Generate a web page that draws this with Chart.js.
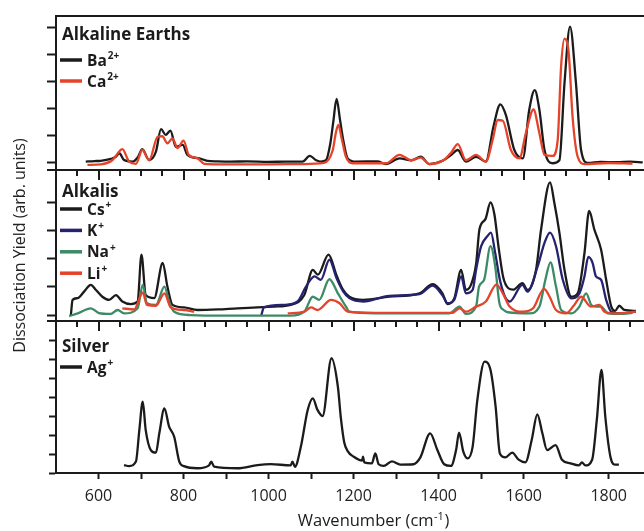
<!DOCTYPE html>
<html>
<head>
<meta charset="utf-8">
<script src="https://cdn.jsdelivr.net/npm/chart.js@4/dist/chart.umd.min.js"></script>
<style>
  html, body { margin: 0; padding: 0; background: #fff; }
  canvas { display: block; }
</style>
</head>
<body>
<canvas id="spectra" width="644" height="531"></canvas>
<script>
const FONT = '"Open Sans", "DejaVu Sans", sans-serif';
const INK = '#1b1b1b';
const RED = '#e5432a';
const NAVY = '#25226f';
const GREEN = '#3d8a66';

// wavenumber (cm-1), yield (arb. units) pairs
const baSpectrum = [[570,0.05],[590,0.07],[605,0.08],[629,0.15],[640,0.22],[649,0.36],[660,0.11],[680,0.05],[692,0.2],[703,0.51],[719,0.11],[735,0.42],[747,1.25],[758,1.04],[769,1.2],[782,0.6],[798,0.67],[809,0.3],[837,0.17],[856,0.08],[880,0.06],[911,0.05],[950,0.06],[1000,0.04],[1040,0.05],[1080,0.05],[1097,0.26],[1112,0.1],[1123,0.05],[1135,0.1],[1145,0.7],[1152,1.5],[1160,2.37],[1168,1.6],[1175,0.9],[1186,0.17],[1205,0.05],[1256,0.06],[1276,-0.04],[1308,0.17],[1336,0.1],[1358,0.23],[1378,-0.04],[1409,0.08],[1430,0.3],[1445,0.48],[1464,0.05],[1488,0.23],[1511,0.05],[1529,1.35],[1545,2.17],[1558,1.78],[1578,0.48],[1598,0.17],[1613,1.96],[1626,2.7],[1637,1.96],[1649,0.48],[1668,-0.01],[1684,0.1],[1696,2.95],[1709,5.05],[1723,2.95],[1735,0.48],[1751,0.0],[1780,0.04],[1820,0.03],[1850,0.05],[1880,0.02]];
const caSpectrum = [[574,-0.07],[605,-0.05],[633,0.11],[645,0.35],[656,0.51],[672,0.05],[688,-0.03],[703,0.48],[719,0.1],[739,0.97],[750,0.99],[762,0.73],[774,0.91],[786,0.55],[800,0.83],[812,0.3],[833,0.17],[849,-0.03],[900,-0.05],[1000,-0.05],[1080,-0.04],[1130,0.0],[1151,0.48],[1158,1.1],[1164,1.41],[1172,0.9],[1182,0.23],[1198,-0.01],[1276,-0.01],[1308,0.3],[1336,0.1],[1358,0.2],[1378,-0.04],[1413,0.12],[1430,0.4],[1445,0.7],[1464,0.1],[1488,0.3],[1511,0.05],[1527,0.85],[1539,1.59],[1551,1.56],[1570,0.48],[1590,0.17],[1605,1.1],[1623,1.98],[1637,1.1],[1649,0.3],[1668,0.26],[1680,0.85],[1688,3.57],[1696,4.6],[1706,4.06],[1715,1.71],[1727,0.23],[1743,-0.04],[1800,0.0],[1856,-0.02]];

const csSpectrum = [[535,0.0],[539,0.54],[551,0.6],[566,0.83],[582,1.07],[594,0.89],[609,0.65],[625,0.54],[641,0.71],[656,0.48],[676,0.39],[692,0.48],[701,2.14],[711,0.71],[731,0.6],[751,1.85],[762,1.01],[774,0.36],[801,0.27],[833,0.18],[880,0.2],[927,0.24],[974,0.27],[1013,0.3],[1052,0.36],[1084,0.71],[1104,1.6],[1116,1.43],[1141,2.14],[1160,1.4],[1175,0.9],[1190,0.65],[1223,0.54],[1284,0.65],[1355,0.77],[1386,1.1],[1409,0.77],[1421,0.39],[1437,0.6],[1453,1.6],[1464,0.89],[1476,1.07],[1488,1.8],[1496,3.04],[1510,3.4],[1522,3.99],[1531,3.58],[1541,2.4],[1552,1.33],[1564,0.95],[1575,0.9],[1597,1.13],[1609,0.89],[1629,1.6],[1641,3.04],[1662,4.7],[1672,3.99],[1684,2.92],[1696,1.6],[1712,0.65],[1727,0.77],[1743,2.2],[1754,3.69],[1766,3.04],[1782,2.32],[1794,1.25],[1806,0.3],[1815,0.15],[1825,0.33],[1837,0.18],[1864,0.15]];
const kSpectrum = [[983,0.0],[989,0.27],[1037,0.36],[1068,0.48],[1088,1.01],[1108,1.37],[1123,1.25],[1143,1.96],[1160,1.3],[1175,0.85],[1190,0.6],[1223,0.48],[1284,0.68],[1355,0.74],[1386,1.04],[1409,0.7],[1421,0.42],[1437,0.55],[1453,1.37],[1464,0.77],[1480,0.89],[1488,1.6],[1500,2.44],[1515,2.8],[1523,2.92],[1533,2.2],[1544,1.25],[1556,0.65],[1567,0.48],[1597,1.07],[1609,0.83],[1633,1.73],[1649,2.56],[1662,2.92],[1676,2.44],[1692,1.25],[1712,0.59],[1731,0.77],[1743,1.37],[1752,2.06],[1762,1.85],[1770,1.37],[1782,1.25],[1794,0.54],[1806,0.12],[1829,0.06],[1864,0.12]];
const naSpectrum = [[531,-0.04],[551,0.06],[582,0.24],[601,0.07],[629,0.04],[645,0.18],[660,0.06],[692,0.24],[704,1.07],[714,0.42],[735,0.36],[755,1.01],[766,0.48],[778,0.12],[817,0.0],[900,-0.02],[1000,-0.02],[1052,-0.02],[1084,0.12],[1104,0.65],[1119,0.54],[1143,1.27],[1163,0.77],[1182,0.3],[1190,0.12],[1250,0.06],[1350,0.06],[1425,0.06],[1449,0.3],[1464,0.04],[1488,0.3],[1495,1.01],[1507,1.25],[1522,2.44],[1533,1.73],[1543,0.42],[1553,0.18],[1563,0.1],[1614,0.06],[1637,0.3],[1651,1.25],[1663,1.87],[1676,1.01],[1688,0.18],[1712,0.06],[1731,0.3],[1747,0.77],[1759,0.36],[1770,0.3],[1782,0.3],[1798,0.06],[1825,0.04],[1856,0.08]];
const liSpectrum = [[656,0.24],[684,0.2],[704,0.8],[714,0.36],[735,0.33],[755,0.77],[770,0.27],[801,0.18],[825,0.12],[935,null],[1045,0.06],[1084,0.12],[1100,0.27],[1115,0.18],[1147,0.54],[1167,0.42],[1186,0.12],[1250,0.08],[1350,0.08],[1433,0.08],[1449,0.24],[1464,0.12],[1488,0.3],[1511,0.48],[1536,1.08],[1551,0.77],[1567,0.3],[1598,0.12],[1622,0.24],[1648,0.93],[1661,0.65],[1676,0.18],[1700,0.06],[1719,0.36],[1735,0.65],[1758,0.3],[1778,0.36],[1790,0.12],[1817,0.06],[1864,0.12]];

const agSpectrum = [[660,0.42],[672,0.36],[688,0.6],[696,2.26],[704,3.75],[711,2.26],[723,1.21],[735,1.07],[743,2.09],[755,3.4],[766,2.44],[778,1.91],[790,0.6],[801,0.36],[833,0.25],[860,0.4],[865,0.6],[872,0.33],[927,0.25],[974,0.42],[1005,0.47],[1052,0.4],[1056,0.6],[1062,0.33],[1076,1.39],[1092,3.32],[1104,3.93],[1115,3.32],[1127,3.0],[1148,6.04],[1163,4.54],[1170,2.9],[1178,1.6],[1186,1.15],[1200,0.86],[1220,0.65],[1222,0.86],[1225,0.56],[1243,0.51],[1251,1.03],[1259,0.46],[1271,0.37],[1290,0.61],[1310,0.44],[1341,0.46],[1357,0.82],[1380,2.09],[1397,1.21],[1413,0.46],[1429,0.37],[1441,1.21],[1448,2.12],[1458,1.12],[1468,0.77],[1480,1.39],[1491,3.84],[1508,5.86],[1522,5.42],[1534,3.49],[1544,1.03],[1557,0.82],[1573,1.07],[1588,0.7],[1604,0.56],[1619,1.75],[1632,3.09],[1644,2.09],[1655,1.21],[1675,1.47],[1690,0.7],[1710,0.51],[1730,0.4],[1737,0.56],[1745,0.4],[1761,0.7],[1772,2.79],[1783,5.42],[1792,2.96],[1804,0.86],[1816,0.44],[1824,0.44]];

const xTickValues = [600, 700, 800, 900, 1000, 1100, 1200, 1300, 1400, 1500, 1600, 1700, 1800];
const xLabelValues = [600, 800, 1000, 1200, 1400, 1600, 1800];
const earthTicks = [0, 1, 2, 3, 4, 5];
const alkaliTicks = [0, 1, 2, 3, 4];
const silverTicks = [0, 1, 2, 3, 4, 5, 6, 7];

// one entry per trace; lower order is painted on top
const series = [
  { base: 'Ba', sup: '2+', axis: 'yEarth',  color: INK,   points: baSpectrum, order: 2 },
  { base: 'Ca', sup: '2+', axis: 'yEarth',  color: RED,   points: caSpectrum, order: 1 },
  { base: 'Cs', sup: '+',  axis: 'yAlkali', color: INK,   points: csSpectrum, order: 4 },
  { base: 'K',  sup: '+',  axis: 'yAlkali', color: NAVY,  points: kSpectrum,  order: 3 },
  { base: 'Na', sup: '+',  axis: 'yAlkali', color: GREEN, points: naSpectrum, order: 2 },
  { base: 'Li', sup: '+',  axis: 'yAlkali', color: RED,   points: liSpectrum, order: 1 },
  { base: 'Ag', sup: '+',  axis: 'ySilver', color: INK,   points: agSpectrum, order: 1 }
];

// per-panel key block: offsets from the panel top
const panels = [
  { axis: 'yEarth',  title: 'Alkaline Earths', titleY: 24, firstY: 44, step: 21 },
  { axis: 'yAlkali', title: 'Alkalis',         titleY: 27, firstY: 39, step: 21.4 },
  { axis: 'ySilver', title: 'Silver',          titleY: 31, firstY: 46, step: 21 }
];

const datasets = series.map(s => ({
  label: s.base + s.sup,
  base: s.base,
  sup: s.sup,
  data: s.points.map(p => ({ x: p[0], y: p[1] })),
  xAxisID: 'x',
  yAxisID: s.axis,
  borderColor: s.color,
  backgroundColor: s.color,
  borderWidth: 2.3,
  pointRadius: 0,
  spanGaps: false,
  cubicInterpolationMode: 'monotone',
  order: s.order
}));

function drawSup(ctx, x, y, base, sup, size) {
  ctx.font = `bold ${size}px ${FONT}`;
  ctx.fillText(base, x, y);
  const w = ctx.measureText(base).width;
  ctx.font = `bold ${Math.round(size * 0.62)}px ${FONT}`;
  ctx.fillText(sup, x + w + 1, y - size * 0.42);
}

const panelDecor = {
  id: 'panelDecor',
  afterDraw(chart) {
    const ctx = chart.ctx;
    const area = chart.chartArea;
    const xs = chart.scales.x;
    ctx.save();
    ctx.strokeStyle = INK;
    ctx.fillStyle = INK;
    ctx.lineWidth = 2;

    // top frame and panel separators with inward ticks
    ctx.beginPath();
    ctx.moveTo(area.left - 1, area.top);
    ctx.lineTo(area.right, area.top);
    ctx.stroke();
    ['yAlkali', 'ySilver'].forEach(id => {
      const top = chart.scales[id].top;
      ctx.beginPath();
      ctx.moveTo(area.left - 9, top);
      ctx.lineTo(area.right, top);
      ctx.stroke();
      for (let v = 550; v < xs.max; v += 50) {
        const px = Math.round(xs.getPixelForValue(v));
        const len = v % 200 === 0 ? 10 : 6;
        ctx.beginPath();
        ctx.moveTo(px, top);
        ctx.lineTo(px, top + len);
        ctx.stroke();
      }
    });

    // panel titles and keys
    ctx.textAlign = 'left';
    ctx.textBaseline = 'alphabetic';
    panels.forEach(p => {
      const top = chart.scales[p.axis].top;
      ctx.fillStyle = INK;
      ctx.font = `bold 17px ${FONT}`;
      ctx.fillText(p.title, 62, top + p.titleY);
      chart.data.datasets
        .filter(d => d.yAxisID === p.axis)
        .forEach((d, i) => {
          const y = top + p.firstY + i * p.step;
          ctx.strokeStyle = d.borderColor;
          ctx.lineWidth = 3.5;
          ctx.beginPath();
          ctx.moveTo(60, y);
          ctx.lineTo(82, y);
          ctx.stroke();
          ctx.fillStyle = INK;
          drawSup(ctx, 87, y + 5.5, d.base, d.sup, 15.5);
        });
    });

    // x-axis title, centred under the full spectral window
    ctx.fillStyle = INK;
    ctx.font = `16.5px ${FONT}`;
    const t1 = 'Wavenumber (cm', t2 = '-1', t3 = ')';
    const w1 = ctx.measureText(t1).width;
    const w3 = ctx.measureText(t3).width;
    ctx.font = `11px ${FONT}`;
    const w2 = ctx.measureText(t2).width;
    let tx = 373.5 - (w1 + w2 + w3 + 1) / 2;
    const ty = 526;
    ctx.font = `16.5px ${FONT}`;
    ctx.fillText(t1, tx, ty);
    ctx.font = `11px ${FONT}`;
    ctx.fillText(t2, tx + w1 + 0.5, ty - 6.5);
    ctx.font = `16.5px ${FONT}`;
    ctx.fillText(t3, tx + w1 + w2 + 1, ty);
    ctx.restore();
  }
};

function yAxis(weight, stackWeight, min, max, tickValues, tickLength) {
  return {
    type: 'linear',
    position: 'left',
    stack: 'panels',
    stackWeight,
    weight,
    min,
    max,
    afterBuildTicks: s => { s.ticks = tickValues.map(v => ({ value: v })); },
    afterFit: s => { s.width = 56; },
    ticks: { display: false },
    grid: { drawOnChartArea: false, tickLength, tickWidth: 2, tickColor: INK, color: INK },
    border: { width: 2, color: INK }
  };
}

const alkaliAxis = yAxis(2, 151, -0.21, 5.14, alkaliTicks, 9);
alkaliAxis.title = {
  display: true,
  text: 'Dissociation Yield (arb. units)',
  color: '#222',
  font: { family: FONT, size: 16 },
  padding: { top: 11, bottom: 0 }
};

new Chart(document.getElementById('spectra'), {
  type: 'line',
  data: { datasets },
  options: {
    responsive: false,
    animation: false,
    devicePixelRatio: 1,
    layout: { padding: { top: 16, left: 0, right: 0, bottom: 0 } },
    plugins: { legend: { display: false }, tooltip: { enabled: false } },
    scales: {
      x: {
        type: 'linear',
        position: 'bottom',
        min: 500,
        max: 1883,
        afterBuildTicks: s => { s.ticks = xTickValues.map(v => ({ value: v })); },
        afterFit: s => { s.height = 58; },
        ticks: {
          autoSkip: false,
          maxRotation: 0,
          padding: 8,
          color: '#222',
          font: { family: FONT, size: 16 },
          callback: v => xLabelValues.includes(v) ? String(v) : ''
        },
        grid: { drawOnChartArea: false, tickLength: 6, tickWidth: 2, tickColor: INK, color: INK },
        border: { width: 2, color: INK }
      },
      yEarth: yAxis(3, 154, -0.26, 5.44, earthTicks, 9),
      yAlkali: alkaliAxis,
      ySilver: yAxis(1, 152, 0, 8, silverTicks, 7)
    }
  },
  plugins: [panelDecor]
});
</script>
</body>
</html>
